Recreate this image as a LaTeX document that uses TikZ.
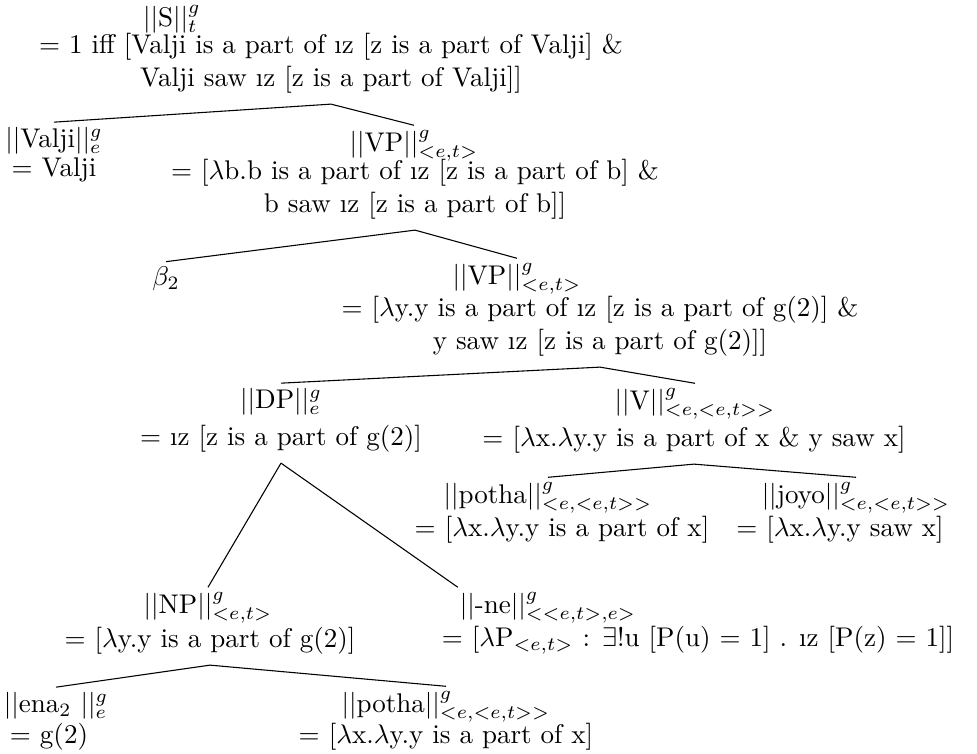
\documentclass[tikz,border=0pt]{standalone}
\usepackage{amsmath}
\usepackage{tikz}

\begin{document}
\begin{tikzpicture}[x=0.37pt, y=-0.37pt,
    lbl/.style={inner xsep=0.5pt, inner ysep=1.5pt, anchor=base},
    val/.style={align=center, anchor=base, inner ysep=4pt}]
  \useasboundingbox (0,0) rectangle (977,753);
  % root
  \node[lbl] (S) at (172,26) {$||$S$||^g_t$};
  \node[val] (Sval) at (331,86) {$=$ 1 iff [Valji is a part of \i z [z is a part of Valji] \&\\
    Valji saw \i z [z is a part of Valji]]};
  % first level
  \node[lbl] (valji) at (54,147) {$||$Valji$||^g_e$};
  \node[val] (valjival) at (54,176) {$=$ Valji};
  \node[lbl] (VPa) at (414,151) {$||$VP$||^g_{<e,t>}$};
  \node[val] (VPaval) at (415,212) {$=$ [$\lambda$b.b is a part of \i z [z is a part of b] \&\\
    b saw \i z [z is a part of b]]};
  % second level
  \node[lbl] (beta) at (166,285) {$\beta_2$};
  \node[lbl] (VPb) at (517,284) {$||$VP$||^g_{<e,t>}$};
  \node[val] (VPbval) at (600,349) {$=$ [$\lambda$y.y is a part of \i z [z is a part of g(2)] \&\\
    y saw \i z [z is a part of g(2)]]};
  % DP and V
  \node[lbl] (DP) at (281,408) {$||$DP$||^g_e$};
  \node[val] (DPval) at (281,445) {$=$ \i z [z is a part of g(2)]};
  \node[lbl] (V) at (695,409) {$||$V$||^g_{<e,<e,t>>}$};
  \node[val] (Vval) at (694,446) {$=$ [$\lambda$x.$\lambda$y.y is a part of x \& y saw x]};
  \node[lbl] (potha) at (548,503) {$||$potha$||^g_{<e,<e,t>>}$};
  \node[val] (pothaval) at (562,536) {$=$ [$\lambda$x.$\lambda$y.y is a part of x]};
  \node[lbl] (joyo) at (856,503) {$||$joyo$||^g_{<e,<e,t>>}$};
  \node[val] (joyoval) at (840,536) {$=$ [$\lambda$x.$\lambda$y.y saw x]};
  % NP and -ne
  \node[lbl] (NP) at (208,613) {$||$NP$||^g_{<e,t>}$};
  \node[val] (NPval) at (210,647) {$=$ [$\lambda$y.y is a part of g(2)]};
  \node[lbl] (ne) at (548,613) {$||$-ne$||^g_{<<e,t>,e>}$};
  \node[val] (neval) at (698,646) {$=$ [$\lambda$P$_{<e,t>}$ : $\exists$!u [P(u) $=$ 1] . \i z [P(z) $=$ 1]]};
  % leaves
  \node[lbl] (ena) at (56,712) {$||$ena$_2$ $||^g_e$};
  \node[val] (enaval) at (49,743) {$=$ g(2)};
  \node[lbl] (pothb) at (446,712) {$||$potha$||^g_{<e,<e,t>>}$};
  \node[val] (pothbval) at (446,743) {$=$ [$\lambda$x.$\lambda$y.y is a part of x]};
  % branches
  \draw (Sval.south) -- (valji.north);
  \draw (Sval.south) -- (VPa.north);
  \draw (VPaval.south) -- (beta.north);
  \draw (VPaval.south) -- (VPb.north);
  \draw (VPbval.south) -- (DP.north);
  \draw (VPbval.south) -- (V.north);
  \draw (Vval.south) -- (potha.north);
  \draw (Vval.south) -- (joyo.north);
  \draw (DPval.south) -- (NP.north);
  \draw (DPval.south) -- (ne.north west);
  \draw (NPval.south) -- (ena.north);
  \draw (NPval.south) -- (pothb.north);
\end{tikzpicture}
\end{document}
